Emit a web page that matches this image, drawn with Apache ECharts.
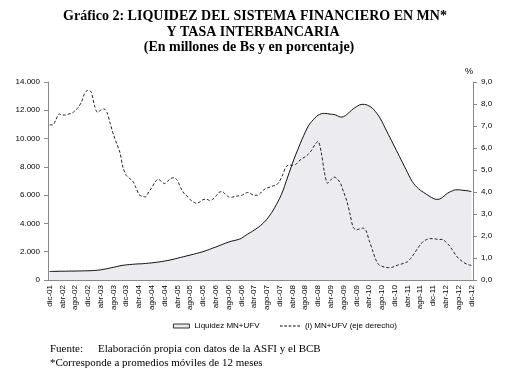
<!DOCTYPE html>
<html><head><meta charset="utf-8">
<script src="https://cdn.jsdelivr.net/npm/echarts@6/dist/echarts.min.js"></script>
<style>html,body{margin:0;padding:0;background:#fff}#c{width:523px;height:375px}</style>
</head><body><div id="c"></div>
<script>
const monthNames = ['ene','feb','mar','abr','may','jun','jul','ago','sep','oct','nov','dic'];
const years = ['01','02','03','04','05','06','07','08','09','10','11','12'];
// Monthly categories dic-01 .. dic-12
const categories = ['dic-01'];
for (let y = 1; y < years.length; y++) for (const m of monthNames) categories.push(m + '-' + years[y]);

// Liquidez MN+UFV (millones de Bs), monthly
const liquidez = [
  600,610,610,620,620,620,630,630,630,640,640,650,650,
  660,670,690,720,760,800,850,900,950,1000,1040,1070,
  1090,1110,1130,1140,1150,1170,1190,1210,1240,1270,1300,1340,
  1380,1430,1480,1540,1600,1650,1710,1760,1820,1880,1940,2000,
  2080,2160,2250,2330,2420,2510,2600,2680,2750,2800,2860,2940,
  3100,3250,3380,3520,3680,3850,4050,4300,4600,4950,5350,5780,
  6300,6950,7600,8250,8850,9400,9950,10450,10900,11200,11450,11650,
  11750,11780,11760,11720,11700,11620,11520,11550,11700,11900,12100,12250,
  12380,12420,12400,12300,12150,11900,11600,11200,10750,10300,9850,9400,
  8950,8500,8050,7600,7150,6800,6550,6350,6200,6050,5900,5780,
  5700,5720,5850,6050,6200,6300,6380,6380,6350,6330,6300,6250
];
// Tasa interbancaria MN+UFV (%), monthly
const tasa = [
  7.05,7.05,7.3,7.55,7.5,7.5,7.55,7.58,7.7,7.85,8.1,8.5,8.62,
  8.55,7.95,7.62,7.72,7.78,7.6,7.1,6.6,6.2,5.8,5.1,4.75,
  4.62,4.5,4.2,3.88,3.8,3.78,4.0,4.2,4.45,4.58,4.48,4.38,
  4.5,4.62,4.65,4.52,4.2,3.95,3.82,3.65,3.55,3.48,3.55,3.65,
  3.68,3.62,3.66,3.8,3.98,4.02,3.9,3.78,3.76,3.8,3.82,3.84,
  3.92,3.98,3.92,3.85,3.85,3.95,4.1,4.18,4.22,4.28,4.32,4.5,
  4.8,5.15,5.22,5.22,5.25,5.4,5.52,5.6,5.72,5.9,6.15,6.3,
  5.8,4.9,4.4,4.55,4.68,4.6,4.4,4.0,3.6,3.0,2.4,2.28,
  2.32,2.36,2.25,1.8,1.38,0.95,0.7,0.62,0.58,0.56,0.57,0.62,
  0.68,0.72,0.77,0.83,0.98,1.18,1.4,1.6,1.76,1.84,1.88,1.88,
  1.86,1.84,1.85,1.72,1.58,1.38,1.15,0.98,0.86,0.76,0.7,0.66
];
const leftTicks = [0, 14000, 2000];
const rightTicks = [0, 9, 1];
const markerMonth = 'feb-09';
const titleLines = ['Gráfico 2: LIQUIDEZ DEL SISTEMA FINANCIERO EN MN*', 'Y TASA INTERBANCARIA', '(En millones de Bs y en porcentaje)'];

const fmtR = v => v.toFixed(1).replace('.', ',');
const chart = echarts.init(document.getElementById('c'), null, {renderer:'canvas'});
const sans = 'Liberation Sans, Arial, sans-serif';
const axisFont = {fontFamily:sans, fontSize:8, color:'#000'};
const legendText = {fontFamily:sans, fontSize:8, color:'#000'};
const titleFont = 'bold 14px "Liberation Serif", "Times New Roman", serif';
const footFont = '11px "Liberation Serif", serif';
chart.setOption({
  animation:false,
  backgroundColor:'#fff',
  grid:{left:48, right:50, top:82, bottom:95, containLabel:false},
  legend:[
    {top:322, left:173, itemWidth:16, itemHeight:4, padding:0,
     textStyle:legendText,
     data:[{name:'Liquidez MN+UFV', icon:'rect', itemStyle:{color:'#ececf0', borderColor:'#000', borderWidth:0.8}}]},
    {top:322, left:280, itemWidth:20, itemHeight:1, padding:0,
     textStyle:legendText,
     data:[{name:'(i) MN+UFV (eje derecho)',
       icon:'path://M0,0h2.6v1h-2.6zM4.35,0h2.6v1h-2.6zM8.7,0h2.6v1h-2.6zM13.05,0h2.6v1h-2.6zM17.4,0h2.6v1h-2.6z',
       itemStyle:{color:'#000', borderWidth:0}}]}
  ],
  xAxis:{
    type:'category', data:categories, boundaryGap:true,
    axisLine:{lineStyle:{color:'#888', width:1}},
    axisTick:{interval:3, length:4, lineStyle:{color:'#888'}, alignWithLabel:true},
    axisLabel:Object.assign({interval:3, rotate:90, margin:5}, axisFont)
  },
  yAxis:[
    {type:'value', min:leftTicks[0], max:leftTicks[1], interval:leftTicks[2],
     axisLine:{show:true, lineStyle:{color:'#888'}}, axisTick:{show:true, length:4, lineStyle:{color:'#888'}},
     splitLine:{show:false}, axisLabel:Object.assign({formatter:v=>v===0?'0':(v/1000).toFixed(3), margin:8}, axisFont)},
    {type:'value', min:rightTicks[0], max:rightTicks[1], interval:rightTicks[2], position:'right',
     name:'%', nameGap:6, nameTextStyle:{fontFamily:sans, fontSize:9, color:'#000', align:'right'},
     axisLine:{show:true, lineStyle:{color:'#888'}}, axisTick:{show:true, length:4, lineStyle:{color:'#888'}},
     splitLine:{show:false}, axisLabel:Object.assign({formatter:fmtR, margin:8}, axisFont)}
  ],
  series:[
    {name:'Liquidez MN+UFV', type:'line', yAxisIndex:0, data:liquidez, symbol:'none', smooth:0.3,
     lineStyle:{color:'#111', width:1}, itemStyle:{color:'#ececf0', borderColor:'#000'},
     areaStyle:{color:'#ececf0', opacity:1}, clip:false,
     markLine:{silent:true, symbol:'none', label:{show:false},
       lineStyle:{color:'#000', type:[5,3], width:1},
       data:[[{coord:[markerMonth, 0]}, {coord:[markerMonth, 14650]}]]}
    },
    {name:'(i) MN+UFV (eje derecho)', type:'line', yAxisIndex:1, data:tasa, symbol:'none', smooth:0.3,
     lineStyle:{color:'#222', width:1, type:[3,2]}, itemStyle:{color:'#222'}}
  ],
  graphic:[
    {type:'text', x:255, y:16.5, style:{text:titleLines[0], font:titleFont, fill:'#000', align:'center', verticalAlign:'middle'}},
    {type:'text', x:253, y:32.2, style:{text:titleLines[1], font:titleFont, fill:'#000', align:'center', verticalAlign:'middle'}},
    {type:'text', x:249, y:47.7, style:{text:titleLines[2], font:titleFont, fill:'#000', align:'center', verticalAlign:'middle'}},
    {type:'text', left:50, top:344, style:{text:'Fuente:', font:footFont, fill:'#000'}},
    {type:'text', left:98, top:344, style:{text:'Elaboración propia con datos de la ASFI y el BCB', font:footFont, fill:'#000'}},
    {type:'text', left:50, top:358, style:{text:'*Corresponde a promedios móviles de 12 meses', font:footFont, fill:'#000'}}
  ]
});
</script></body></html>
